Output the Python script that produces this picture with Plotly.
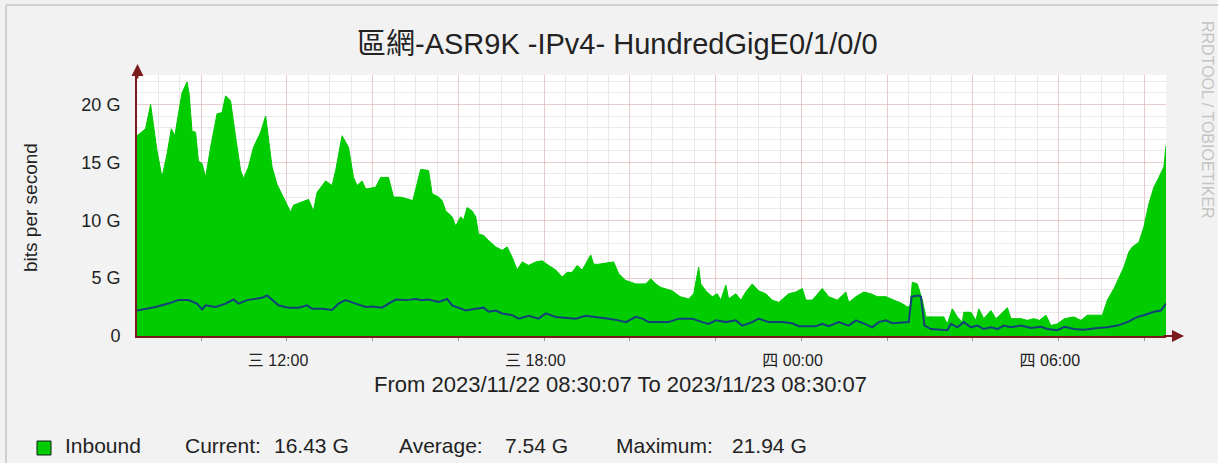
import pandas as pd
import plotly.graph_objects as go

# ---------------- data ----------------
start = pd.Timestamp("2023-11-22 08:30:07")
end = pd.Timestamp("2023-11-23 08:30:07")

in_minutes = [0, 12, 19, 23, 28, 35, 42, 48, 53, 58, 63, 70, 73, 77, 82, 86, 91, 96, 103, 112,
              119, 124, 131, 138, 145, 149, 156, 163, 173, 180, 184, 189, 196, 205, 215, 219, 231,
              240, 247, 252, 264, 273, 278, 287, 296, 303, 308, 315, 320, 334, 341, 352, 359, 369,
              386, 397, 408, 413, 422, 427, 432, 441, 446, 453, 457, 462, 469, 474, 478, 485, 492,
              502, 511, 518, 525, 532, 539, 548, 558, 567, 576, 586, 595, 602, 609, 616, 623, 635,
              639, 646, 656, 667, 674, 684, 698, 712, 719, 726, 733, 749, 760, 772, 779, 786, 789,
              796, 805, 812, 817, 824, 828, 838, 845, 852, 861, 870, 880, 889, 898, 912, 922, 931,
              936, 945, 959, 968, 980, 992, 996, 1006, 1017, 1027, 1036, 1048, 1059, 1071, 1078,
              1082, 1085, 1092, 1099, 1104, 1129, 1134, 1141, 1148, 1155, 1157, 1167, 1174, 1178,
              1185, 1195, 1202, 1209, 1218, 1223, 1237, 1246, 1255, 1263, 1272, 1279, 1288, 1298,
              1311, 1321, 1330, 1351, 1358, 1368, 1375, 1381, 1388, 1393, 1402, 1409, 1416, 1423,
              1430, 1437, 1440]
inbound_g = [17.3, 17.9, 20.0, 18.3, 16.0, 13.7, 15.7, 17.9, 17.3, 19.2, 21.0, 21.94, 20.9, 17.7,
             17.6, 15.1, 14.9, 13.7, 16.3, 19.2, 19.3, 20.75, 20.3, 17.2, 14.3, 13.6, 14.6, 16.3,
             17.6, 19.0, 17.2, 14.6, 13.1, 12.0, 10.7, 11.3, 11.55, 11.8, 10.8, 12.4, 13.4, 13.0,
             14.3, 17.3, 16.3, 13.7, 13.0, 13.4, 12.7, 12.85, 13.7, 13.7, 12.0, 12.0,
             11.7, 14.4, 14.3, 12.3, 12.0, 11.7, 10.8, 10.3, 9.5, 10.3, 10.0, 11.1, 10.8, 10.3, 8.8,
             8.7, 8.25, 7.7, 7.4, 7.7, 6.8, 5.7, 6.4, 6.1, 6.4, 6.5, 6.1, 5.7, 5.1, 5.5, 5.5, 6.1,
             5.7, 7.0, 6.2, 6.2, 6.3, 6.4, 5.4, 4.8, 4.5, 4.5, 4.95, 4.5, 4.2, 3.9, 3.4, 3.2, 3.65,
             5.95, 4.5, 3.9, 3.4, 3.65, 3.1, 4.4, 3.2, 3.65, 3.1, 3.8, 4.5, 3.9, 3.65, 3.1, 2.9,
             3.65, 3.8, 4.1, 3.1, 3.1, 4.1, 3.4, 3.1, 3.8, 2.9, 3.4, 3.8, 3.65, 3.4, 3.4, 3.1, 2.8,
             2.5, 2.6, 4.65, 4.5, 3.1, 1.65, 1.65, 1.05, 2.35, 1.65, 1.2, 2.05, 2.05, 1.35, 2.35,
             1.5, 2.2, 1.5, 1.9, 2.45, 1.5, 1.5, 1.35, 1.5, 1.35, 1.8, 0.9, 1.05, 1.5, 1.65, 1.35,
             1.8, 1.8, 3.1, 4.2, 5.1, 5.95, 7.25, 7.7, 8.1, 9.4, 11.4, 12.85, 13.7, 14.6, 16.43]

out_minutes = [0, 26, 44, 58, 72, 84, 91, 96, 110, 124, 135, 142, 154, 166, 175, 182, 189, 198,
               212, 226, 238, 245, 259, 273, 282, 292, 306, 320, 329, 343, 352, 362, 376, 390,
               399, 408, 422, 434, 441, 448, 460, 474, 485, 492, 502, 511, 525, 534, 548, 562,
               572, 586, 600, 614, 628, 642, 660, 674, 684, 698, 707, 716, 726, 744, 758, 777,
               791, 800, 810, 824, 838, 847, 861, 870, 884, 903, 917, 926, 950, 959, 968, 982,
               996, 1006, 1020, 1029, 1038, 1048, 1057, 1071, 1080, 1084, 1094, 1097, 1102, 1111,
               1125, 1134, 1139, 1148, 1157, 1167, 1176, 1185, 1195, 1204, 1213, 1223, 1237,
               1251, 1265, 1274, 1288, 1298, 1311, 1325, 1344, 1358, 1372, 1386, 1400, 1409,
               1423, 1433, 1440]
outbound_g = [2.2, 2.5, 2.8, 3.1, 3.1, 2.8, 2.3, 2.65, 2.5, 2.8, 3.15, 2.8, 3.1, 3.2, 3.3, 3.5,
              3.1, 2.65, 2.45, 2.45, 2.65, 2.35, 2.35, 2.25, 2.8, 3.1, 2.8, 2.5, 2.55, 2.45, 2.8,
              3.15, 3.1, 3.2, 3.1, 3.15, 2.95, 3.2, 2.65, 2.5, 2.2, 2.35, 2.45, 2.1, 2.2, 1.95,
              1.8, 1.5, 1.75, 1.5, 1.95, 1.65, 1.6, 1.5, 1.75, 1.65, 1.5, 1.35, 1.2, 1.65, 1.5,
              1.2, 1.2, 1.2, 1.5, 1.5, 1.2, 1.05, 1.35, 1.2, 1.35, 0.9, 1.2, 1.5, 1.2, 1.2, 1.1,
              0.85, 0.85, 1.05, 0.85, 1.2, 0.9, 1.35, 1.0, 0.75, 1.2, 1.35, 1.1, 1.2, 1.2, 3.4,
              3.5, 3.4, 0.9, 0.6, 0.5, 0.5, 1.05, 0.75, 1.2, 0.75, 0.9, 0.6, 0.75, 0.6, 0.9,
              0.75, 0.9, 0.7, 0.8, 0.6, 0.5, 0.8, 0.6, 0.55, 0.7, 0.75, 0.9, 1.2, 1.65, 1.8,
              2.1, 2.2, 2.8]

x_tick_times = ["2023-11-22 10:00", "2023-11-22 12:00", "2023-11-22 14:00", "2023-11-22 16:00",
                "2023-11-22 18:00", "2023-11-22 20:00", "2023-11-22 22:00", "2023-11-23 00:00",
                "2023-11-23 02:00", "2023-11-23 04:00", "2023-11-23 06:00", "2023-11-23 08:00"]
x_tick_text = ["", "三 12:00", "", "", "三 18:00", "", "", "四 00:00", "", "", "四 06:00", ""]
y_tick_vals = [0, 5, 10, 15, 20]
y_tick_text = ["0", "5 G", "10 G", "15 G", "20 G"]

title_text = "區網-ASR9K -IPv4- HundredGigE0/1/0/0"
legend_name = "Inbound"
stat_current = "16.43 G"
stat_average = "7.54 G"
stat_maximum = "21.94 G"

# ---------------- layout geometry ----------------
W, H = 1218, 463
L, R, T, B = 137, 52, 75, 127
PW, PH = W - L - R, H - T - B


def px(xp):
    return (xp - L) / PW


def py(yp):
    return (H - B - yp) / PH


FONT = "Liberation Sans, Noto Sans CJK TC, sans-serif"
TXT = "#222222"
AXC = "#7a1a1a"
NB = "\u00a0"

t_in = [start + pd.Timedelta(minutes=m) for m in in_minutes]
t_out = [start + pd.Timedelta(minutes=m) for m in out_minutes]

fig = go.Figure()
fig.add_trace(go.Scatter(x=t_in, y=inbound_g, mode="lines", fill="tozeroy",
                         line=dict(color="#00c800", width=1), fillcolor="#00cc00",
                         name=legend_name, showlegend=False, hoverinfo="skip"))
fig.add_trace(go.Scatter(x=t_out, y=outbound_g, mode="lines",
                         line=dict(color="#13407a", width=2),
                         name="Outbound", showlegend=False, hoverinfo="skip"))

fig.update_layout(
    width=W, height=H,
    margin=dict(l=L, r=R, t=T, b=B, autoexpand=False),
    paper_bgcolor="#f2f2f2",
    plot_bgcolor="#ffffff",
    font=dict(family=FONT, size=17, color=TXT),
    showlegend=False,
)

fig.update_xaxes(
    type="date", range=[start, end], automargin=False,
    tickmode="array", tickvals=x_tick_times,
    ticktext=[(t + NB * 4) if t else t for t in x_tick_text],
    showgrid=True, gridcolor="rgba(225,120,120,0.25)", gridwidth=1,
    ticks="outside", ticklen=3, tickcolor="#999999",
    ticklabelstandoff=6,
    tickfont=dict(size=16, family=FONT, color=TXT),
    showline=True, linecolor=AXC, linewidth=2,
    minor=dict(dtick=30 * 60 * 1000, tick0="2023-11-22 08:00", showgrid=True,
               gridcolor="#e9e9e9", gridwidth=1, ticks=""),
    zeroline=False, fixedrange=True,
)
fig.update_yaxes(
    range=[0, 22.55], automargin=False,
    tickmode="array", tickvals=y_tick_vals, ticktext=y_tick_text,
    showgrid=True, gridcolor="rgba(225,120,120,0.25)", gridwidth=1,
    ticks="", ticklabelstandoff=11,
    tickfont=dict(size=18, family=FONT, color=TXT),
    showline=True, linecolor=AXC, linewidth=2,
    minor=dict(dtick=1, tick0=0, showgrid=True, gridcolor="#e9e9e9", gridwidth=1),
    zeroline=False, fixedrange=True,
)

ann = []
# title
ann.append(dict(text=title_text, x=px(617), y=py(44), xref="paper", yref="paper",
                showarrow=False, font=dict(size=29, family=FONT, color=TXT),
                xanchor="center", yanchor="middle"))
# y-axis title
ann.append(dict(text="bits per second", x=px(30), y=py(208), xref="paper", yref="paper",
                showarrow=False, textangle=-90, font=dict(size=19, family=FONT, color=TXT),
                xanchor="center", yanchor="middle"))
# time span
ann.append(dict(text="From 2023/11/22 08:30:07 To 2023/11/23 08:30:07", x=px(620), y=py(384),
                xref="paper", yref="paper", showarrow=False,
                font=dict(size=22, family=FONT, color=TXT), xanchor="center", yanchor="middle"))
# legend texts
legend_items = [(63, legend_name), (183, "Current:"), (272, stat_current), (397, "Average:"),
                (503, stat_average), (614, "Maximum:"), (730, stat_maximum)]
for xp_, s in legend_items:
    ann.append(dict(text=s, x=px(xp_), y=py(445), xref="paper", yref="paper", showarrow=False,
                    font=dict(size=21, family=FONT, color=TXT), xanchor="left", yanchor="middle"))
# rrdtool credit
ann.append(dict(text="RRDTOOL / TOBIOETIKER", x=px(1208), y=py(120), xref="paper", yref="paper",
                showarrow=False, textangle=90, font=dict(size=16, family=FONT, color="#c4c4c4"),
                xanchor="center", yanchor="middle"))
# axis arrows
ann.append(dict(x=px(137.5), y=py(64), ax=0, ay=16, xref="paper", yref="paper",
                axref="pixel", ayref="pixel", showarrow=True, arrowhead=2, arrowsize=1.2,
                arrowwidth=2, arrowcolor=AXC, text=""))
ann.append(dict(x=px(1184), y=py(336), ax=-22, ay=0, xref="paper", yref="paper",
                axref="pixel", ayref="pixel", showarrow=True, arrowhead=2, arrowsize=1.2,
                arrowwidth=2, arrowcolor=AXC, text=""))
fig.update_layout(annotations=ann)

shapes = [
    # legend colour box
    dict(type="rect", xref="paper", yref="paper", x0=px(37), x1=px(51), y0=py(455), y1=py(441),
         fillcolor="#00cc00", line=dict(color="#1a1a1a", width=1)),
    # frame lines
    dict(type="line", xref="paper", yref="paper", x0=px(6), x1=px(6), y0=py(5), y1=py(463),
         line=dict(color="#cfcfcf", width=2)),
    dict(type="line", xref="paper", yref="paper", x0=px(6), x1=px(1218), y0=py(5), y1=py(5),
         line=dict(color="#cfcfcf", width=2)),
]
fig.update_layout(shapes=shapes)

fig.write_html("out.html", config={"displayModeBar": False},
               post_script="document.body.style.margin='0';document.body.style.background='#f2f2f2';")
